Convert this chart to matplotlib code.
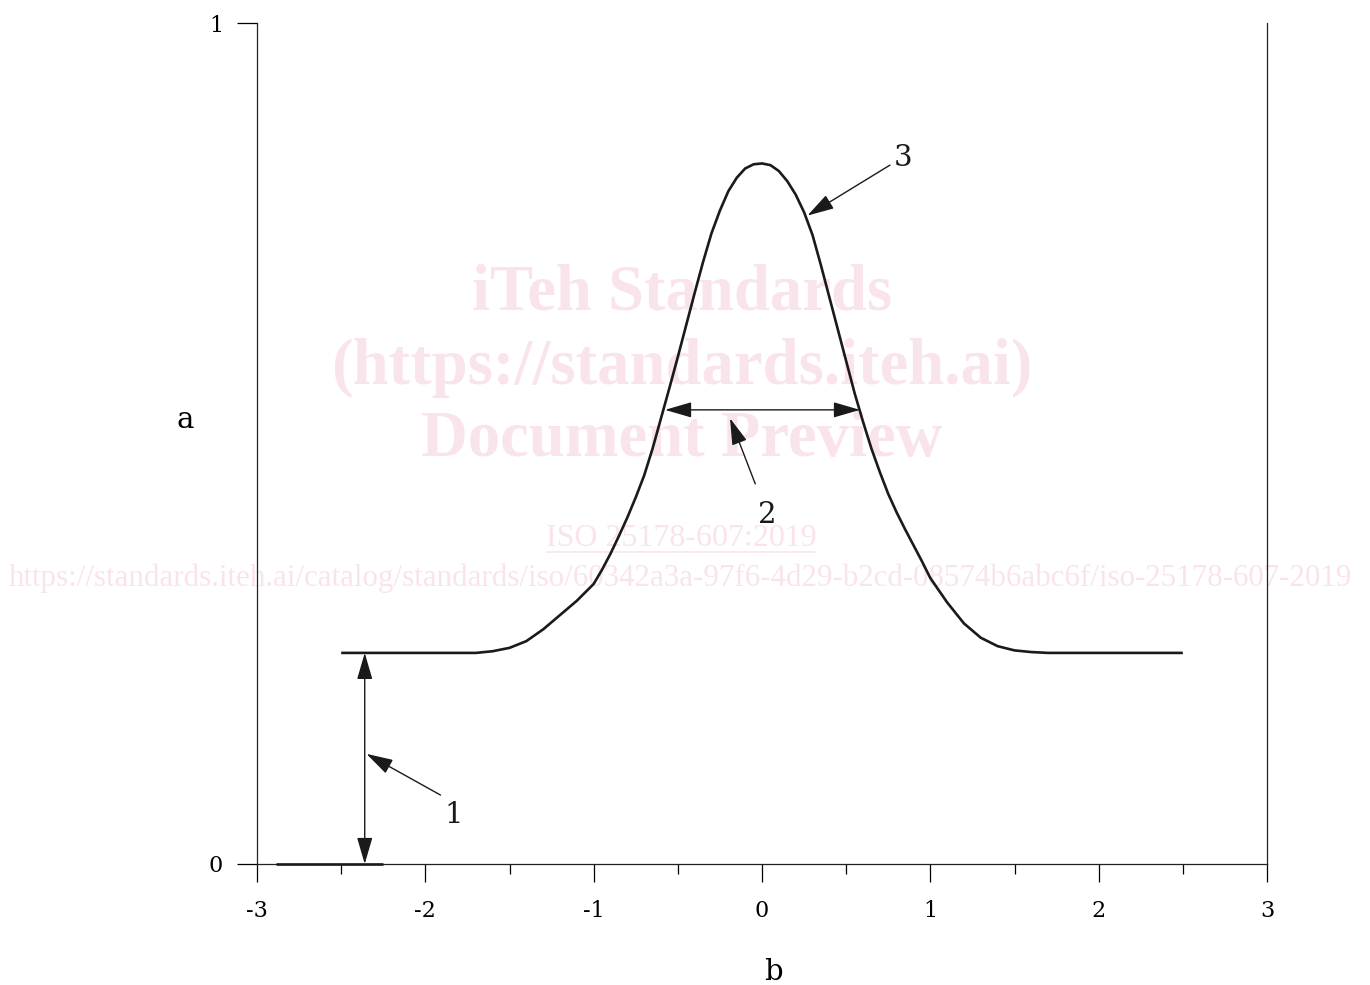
import numpy as np
import matplotlib
matplotlib.use("Agg")
import matplotlib.pyplot as plt
from matplotlib.patches import FancyArrowPatch

# curve (b, a)
b_vals = [-2.50, -1.70, -1.60, -1.50, -1.40, -1.30, -1.20, -1.10, -1.00, -0.95,
          -0.90, -0.85, -0.80, -0.75, -0.70, -0.65, -0.60, -0.55, -0.50, -0.45,
          -0.40, -0.35, -0.30, -0.25, -0.20, -0.15, -0.10, -0.05, 0.00, 0.05,
          0.10, 0.15, 0.20, 0.25, 0.30, 0.35, 0.40, 0.45, 0.50, 0.55,
          0.60, 0.65, 0.70, 0.75, 0.80, 0.85, 0.90, 0.95, 1.00, 1.10,
          1.20, 1.30, 1.40, 1.50, 1.60, 1.70, 2.50]
a_vals = [0.251, 0.251, 0.253, 0.257, 0.265, 0.279, 0.296, 0.313, 0.333, 0.350,
          0.369, 0.390, 0.412, 0.436, 0.462, 0.494, 0.530, 0.566, 0.603, 0.641,
          0.679, 0.716, 0.750, 0.777, 0.800, 0.816, 0.827, 0.832, 0.833, 0.831,
          0.824, 0.812, 0.796, 0.775, 0.748, 0.712, 0.674, 0.636, 0.598, 0.560,
          0.526, 0.494, 0.466, 0.440, 0.418, 0.398, 0.379, 0.360, 0.340, 0.311,
          0.286, 0.269, 0.259, 0.254, 0.252, 0.251, 0.251]

# zero reference segment
zero_b = [-2.89, -2.25]
zero_a = [0.0, 0.0]

# dimension arrows
dim1_b = -2.36
dim1_a = [0.0, 0.251]
dim2_a = 0.540
dim2_b = [-0.576, 0.582]

# callouts: label, text position, arrow tail, arrow head
callouts = [
    ("1", (-1.83, 0.058), (-1.91, 0.082), (-2.35, 0.131)),
    ("2", (0.03, 0.415), (-0.04, 0.452), (-0.19, 0.530)),
    ("3", (0.84, 0.839), (0.76, 0.831), (0.27, 0.771)),
]

x_ticks = [-3, -2, -1, 0, 1, 2, 3]
x_minor = [-2.5, -1.5, -0.5, 0.5, 1.5, 2.5]
y_ticks = [0, 1]

wm_lines = ["iTeh Standards", "(https://standards.iteh.ai)", "Document Preview"]
wm_iso = "ISO 25178-607:2019"
wm_url = "https://standards.iteh.ai/catalog/standards/iso/60342a3a-97f6-4d29-b2cd-08574b6abc6f/iso-25178-607-2019"
wm_color = "#fae4eb"
ink = "#1a1a1a"

fig = plt.figure(figsize=(13.7, 9.85), dpi=100)
ax = fig.add_axes([257/1370, 121/985, 1010/1370, 841/985])
ax.patch.set_alpha(0)

# watermark, drawn under the axes
for txt, py in zip(wm_lines, [293, 368, 440]):
    fig.text(682/1370, 1 - py/985, txt, ha="center", va="center", color=wm_color,
             fontsize=46.5, fontweight="bold", family="Liberation Serif", zorder=-1)
fig.text(681/1370, 1 - 538/985, wm_iso, ha="center", va="center", color=wm_color,
         fontsize=23, family="Liberation Serif", zorder=-1)
fig.add_artist(plt.Line2D([547/1370, 815/1370], [1 - 552/985, 1 - 552/985],
                          color=wm_color, lw=1.2, zorder=-1))
fig.text(680/1370, 1 - 578/985, wm_url, ha="center", va="center", color=wm_color,
         fontsize=22.3, family="Liberation Serif", zorder=-1)

ax.plot(b_vals, a_vals, color=ink, lw=1.9, solid_capstyle="butt", solid_joinstyle="round", zorder=3)
ax.plot(zero_b, zero_a, color=ink, lw=1.9, solid_capstyle="butt", zorder=3, clip_on=False)

head = "head_length=0.55,head_width=0.16"
arrow_kw = dict(mutation_scale=30, color=ink, lw=1.0, shrinkA=0, shrinkB=0, zorder=4)
ax.add_patch(FancyArrowPatch((dim1_b, dim1_a[0]), (dim1_b, dim1_a[1]),
                             arrowstyle="<|-|>," + head, **arrow_kw))
ax.add_patch(FancyArrowPatch((dim2_b[0], dim2_a), (dim2_b[1], dim2_a),
                             arrowstyle="<|-|>," + head, **arrow_kw))

for lab, tpos, tail, tip in callouts:
    ax.add_patch(FancyArrowPatch(tail, tip, arrowstyle="-|>," + head, **arrow_kw))
    ax.text(tpos[0], tpos[1], lab, ha="center", va="center", fontsize=21,
            family="DejaVu Serif", color=ink)

ax.set_xlim(-3, 3)
ax.set_ylim(0, 1)
ax.spines["top"].set_visible(False)
for s in ["left", "right", "bottom"]:
    ax.spines[s].set_linewidth(0.9)
    ax.spines[s].set_color("#222222")

ax.set_xticks(x_ticks)
ax.set_xticks(x_minor, minor=True)
ax.set_xticklabels([str(t) for t in x_ticks], family="DejaVu Serif", fontsize=16)
ax.set_yticks(y_ticks)
ax.set_yticklabels([str(t) for t in y_ticks], family="DejaVu Serif", fontsize=16)
ax.tick_params(axis="x", which="major", direction="out", length=13, width=0.9, pad=13)
ax.tick_params(axis="x", which="minor", direction="out", length=7, width=0.9)
ax.tick_params(axis="y", which="major", direction="out", length=14.4, width=0.9, pad=10)

ax.set_xlabel("b", family="DejaVu Serif", fontsize=21, va="center")
ax.xaxis.set_label_coords(0.511, -0.128)
ax.set_ylabel("a", family="DejaVu Serif", fontsize=21, rotation=0, va="center", ha="center")
ax.yaxis.set_label_coords(-0.0713, 0.528)

fig.savefig("out.png", dpi=100)
